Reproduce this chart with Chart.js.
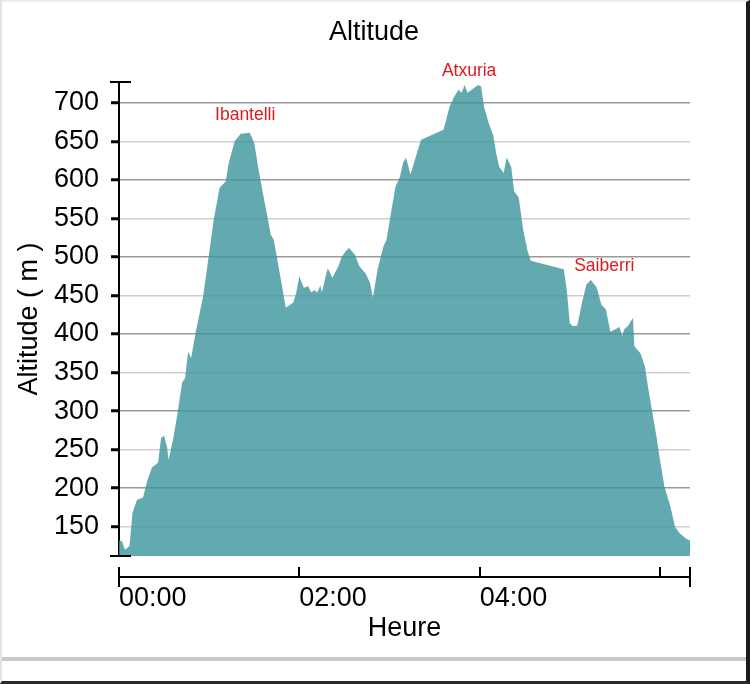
<!DOCTYPE html>
<html>
<head>
<meta charset="utf-8">
<script src="https://cdn.jsdelivr.net/npm/chart.js@4"></script>
<style>
  html, body { margin: 0; padding: 0; background: #fff; }
  #frame {
    position: absolute; left: 0; top: 0; width: 750px; height: 684px; box-sizing: border-box;
    border-left: 2px solid #e4e4e4; border-top: 2px solid #ececec;
    border-right: 4px solid #1a1a1a; border-bottom: 3px solid #2a2a2a;
  }
  #wrap { position: relative; width: 744px; height: 655px; }
  #band { position: absolute; left: 0; top: 655px; width: 744px; height: 4px; background: #c9c9cd; }
</style>
</head>
<body>
<div id="frame">
  <div id="wrap"><canvas id="chart" width="744" height="655"></canvas></div>
  <div id="band"></div>
</div>
<script>
// elapsed time in minutes, altitude in metres
const minutes = [0, 2, 4, 7, 9, 12, 16, 19, 22, 26, 28, 30, 32, 33, 36, 39, 42, 44, 46, 48,
  51, 56, 60, 63, 67, 71, 73, 77, 81, 87, 90, 93, 97, 101, 103, 107, 111, 116, 118, 120,
  123, 126, 128, 130, 132, 134, 135, 138, 139, 142, 146, 148, 150, 153, 157, 160, 164, 167, 169, 172,
  176, 178, 181, 184, 187, 189, 191, 194, 198, 201, 216, 220, 223, 226, 228, 230, 232, 236, 239, 241,
  243, 246, 249, 251, 253, 256, 258, 261, 263, 266, 269, 272, 274, 296, 298, 300, 302, 305, 308, 311,
  314, 318, 321, 324, 327, 330, 333, 335, 336, 339, 342, 343, 347, 350, 352, 355, 358, 360, 363, 367,
  370, 373, 377, 379, 380];
const altitude = [132, 131, 120, 125, 168, 185, 188, 211, 227, 233, 265, 268, 253, 237, 263, 298, 337, 343, 377, 369,
  402, 449, 505, 548, 590, 598, 622, 650, 660, 661, 648, 612, 570, 529, 522, 479, 434, 441, 454, 475,
  460, 462, 454, 457, 454, 463, 454, 479, 485, 473, 488, 499, 505, 512, 503, 488, 479, 467, 447, 483,
  514, 522, 557, 591, 604, 622, 629, 607, 633, 652, 665, 695, 708, 717, 713, 723, 713, 719, 723, 721,
  694, 674, 658, 635, 617, 609, 629, 617, 585, 577, 535, 507, 495, 484, 457, 414, 410, 411, 440, 464,
  470, 460, 438, 432, 403, 406, 409, 397, 406, 411, 421, 384, 375, 358, 332, 298, 263, 237, 202, 176,
  150, 142, 135, 133, 132];

const yTicks = [150, 200, 250, 300, 350, 400, 450, 500, 550, 600, 650, 700];
const xTickMinutes = [0, 120, 240, 360, 380];
const xTickLabels = ['00:00', '02:00', '04:00', '', ''];

const peakNames = ['Ibantelli', 'Atxuria', 'Saiberri'];
const peakMinutes = [84, 233, 323];
const peakAltitudes = [684, 741, 488];

const FONT = '"Liberation Sans", Arial, sans-serif';

// detached time axis, y-axis end caps and summit names
const decorPlugin = {
  id: 'decor',
  afterDraw(chart) {
    const { ctx, chartArea, scales } = chart;
    const x = scales.x, y = scales.y;
    ctx.save();
    ctx.strokeStyle = '#000';
    ctx.lineWidth = 2;

    [y.min, y.max].forEach(v => {
      const py = Math.round(y.getPixelForValue(v));
      ctx.beginPath();
      ctx.moveTo(chartArea.left - 9, py);
      ctx.lineTo(chartArea.left + 12, py);
      ctx.stroke();
    });

    const ay = chartArea.bottom + 21;
    ctx.beginPath();
    ctx.moveTo(x.getPixelForValue(xTickMinutes[0]), ay);
    ctx.lineTo(x.getPixelForValue(xTickMinutes[xTickMinutes.length - 1]), ay);
    ctx.stroke();
    xTickMinutes.forEach((v, i) => {
      const px = Math.round(x.getPixelForValue(v));
      const isEnd = i === 0 || i === xTickMinutes.length - 1;
      ctx.beginPath();
      ctx.moveTo(px, ay - 10);
      ctx.lineTo(px, isEnd ? ay + 10 : ay);
      ctx.stroke();
    });

    ctx.fillStyle = '#e0191b';
    ctx.font = '17.5px ' + FONT;
    ctx.textAlign = 'center';
    ctx.textBaseline = 'middle';
    peakNames.forEach((name, i) => {
      ctx.fillText(name, x.getPixelForValue(peakMinutes[i]), y.getPixelForValue(peakAltitudes[i]));
    });
    ctx.restore();
  }
};

new Chart(document.getElementById('chart'), {
  type: 'line',
  data: {
    datasets: [{
      label: 'Altitude',
      data: minutes.map((m, i) => ({ x: m, y: altitude[i] })),
      fill: 'start',
      backgroundColor: 'rgba(60, 149, 156, 0.8)',
      borderWidth: 0,
      pointRadius: 0,
      tension: 0
    }]
  },
  options: {
    responsive: false,
    animation: false,
    layout: { padding: 0 },
    plugins: {
      legend: { display: false },
      tooltip: { enabled: false },
      title: {
        display: true,
        text: 'Altitude',
        color: '#000',
        font: { family: FONT, size: 27, weight: 'normal' },
        padding: { top: 14, bottom: 33.6 }
      }
    },
    scales: {
      x: {
        type: 'linear',
        min: 0,
        max: 380,
        afterBuildTicks: s => { s.ticks = xTickMinutes.map(v => ({ value: v })); },
        afterFit: s => { s.height = 101; },
        ticks: {
          callback: (v, i) => xTickLabels[i],
          align: 'start',
          autoSkip: false,
          maxRotation: 0,
          padding: 18,
          color: '#000',
          font: { family: FONT, size: 27 }
        },
        grid: { display: false },
        border: { display: false },
        title: {
          display: true,
          text: 'Heure',
          color: '#000',
          font: { family: FONT, size: 27 },
          padding: { top: 0, bottom: 12 }
        }
      },
      y: {
        min: 112,
        max: 727,
        afterBuildTicks: s => { s.ticks = yTicks.map(v => ({ value: v })); },
        afterFit: s => { s.width = 117; },
        ticks: {
          color: '#000',
          padding: 12,
          font: { family: FONT, size: 27 }
        },
        grid: {
          color: c => (c.tick && c.tick.value % 100 === 0) ? '#9a9a9a' : '#cfcfcf',
          lineWidth: 1.5,
          tickLength: 8,
          tickColor: '#000',
          tickWidth: 3
        },
        border: { color: '#000', width: 2 },
        title: {
          display: true,
          text: 'Altitude ( m )',
          color: '#000',
          font: { family: FONT, size: 27 },
          padding: { top: 11 }
        }
      },
      // empty right-hand margin so the plot ends where the reference does
      margin: {
        position: 'right',
        afterFit: s => { s.width = 56; },
        ticks: { display: false },
        grid: { display: false },
        border: { display: false }
      }
    }
  },
  plugins: [decorPlugin]
});
</script>
</body>
</html>
